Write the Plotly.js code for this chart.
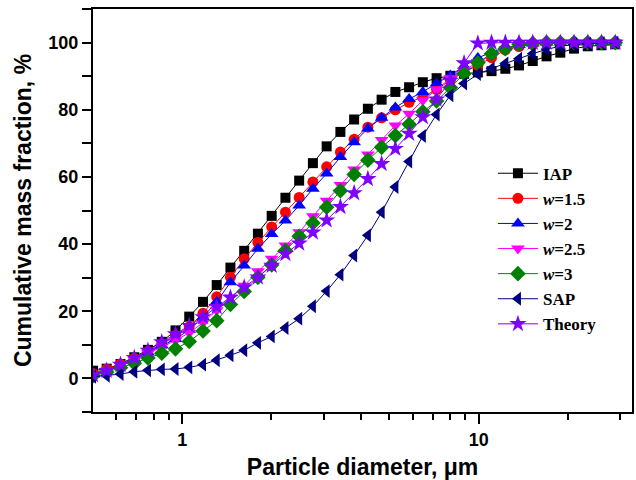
<!DOCTYPE html>
<html>
<head>
<meta charset="utf-8">
<script src="https://cdn.plot.ly/plotly-3.0.1.min.js"></script>
<style>html,body{margin:0;padding:0;background:#fff}#chart{width:636px;height:480px}</style>
</head>
<body>
<div id="chart"></div>
<script>
// Particle diameter (µm), bin centres
const diameter = [0.500, 0.556, 0.619, 0.689, 0.766, 0.853, 0.949, 1.056, 1.175, 1.307,
  1.454, 1.618, 1.800, 2.003, 2.229, 2.480, 2.759, 3.070, 3.416, 3.801,
  4.229, 4.705, 5.235, 5.825, 6.481, 7.211, 8.024, 8.928, 9.934, 11.05,
  12.30, 13.68, 15.22, 16.94, 18.85, 20.97, 23.34, 25.96, 28.89];

const IAP = [2.3, 2.9, 4.3, 6.3, 8.5, 10.9, 14.3, 18.4, 22.8, 27.8,
  33.0, 38.0, 43.1, 48.4, 53.8, 58.9, 64.1, 69.1, 73.4, 77.1,
  80.3, 83.0, 85.3, 86.7, 88.2, 89.4, 90.1, 90.7, 91.1, 91.5,
  92.2, 93.2, 94.5, 95.9, 97.0, 98.2, 98.9, 99.2, 99.5];

const w15 = [1.5, 2.8, 4.3, 6.0, 8.0, 10.3, 12.8, 15.4, 19.4, 24.3,
  30.1, 35.6, 40.5, 45.1, 49.5, 53.9, 58.5, 63.0, 67.4, 71.2,
  74.8, 77.6, 80.0, 82.2, 83.8, 86.0, 88.8, 91.2, 93.2, 95.5,
  97.8, 98.8, 99.4, 99.7, 100, 100, 100, 100, 100];

const w2 = [1.2, 2.5, 4.0, 5.8, 7.8, 9.9, 11.7, 14.5, 18.3, 22.8,
  28.6, 33.6, 38.6, 43.0, 47.0, 51.5, 56.5, 61.0, 65.9, 70.3,
  74.4, 77.6, 80.7, 83.2, 85.3, 87.9, 90.2, 93.0, 95.4, 97.2,
  98.5, 99.3, 99.7, 100, 100, 100, 100, 100, 100];

const w25 = [1.0, 2.3, 3.8, 5.5, 7.5, 9.4, 11.3, 13.6, 16.6, 20.3,
  24.1, 27.6, 31.9, 35.6, 39.6, 43.5, 48.3, 52.9, 57.6, 62.2,
  66.7, 71.0, 75.3, 78.8, 82.8, 86.0, 89.4, 91.7, 94.2, 96.2,
  98.0, 99.0, 99.5, 100, 100, 100, 100, 100, 100];

const w3 = [0.8, 1.8, 3.2, 4.5, 6.1, 7.5, 8.8, 11.0, 14.1, 17.2,
  22.0, 25.9, 30.1, 33.8, 38.1, 42.3, 46.3, 51.0, 55.9, 60.7,
  65.0, 68.8, 72.3, 75.7, 79.4, 82.6, 86.6, 90.7, 94.0, 96.7,
  98.2, 99.5, 99.8, 100, 100, 100, 100, 100, 100];

const SAP = [0.5, 0.8, 1.3, 2.0, 2.4, 2.7, 2.8, 3.3, 4.1, 5.4,
  6.9, 8.4, 10.6, 12.5, 15.0, 17.8, 21.5, 26.0, 30.9, 36.6,
  42.6, 49.5, 57.0, 64.6, 72.2, 78.6, 84.3, 87.8, 90.6, 92.3,
  93.8, 95.2, 96.7, 98.0, 98.9, 99.4, 99.7, 99.9, 100];

const Theory = [1.0, 2.3, 4.1, 6.1, 8.3, 10.8, 13.2, 15.7, 18.3, 21.3,
  24.1, 27.1, 30.1, 33.6, 37.1, 40.2, 43.5, 47.1, 51.1, 55.2,
  59.4, 63.9, 68.4, 72.9, 77.8, 83.1, 88.7, 93.9, 99.8, 100,
  100, 100, 100, 100, 100, 100, 100, 100, 100];

const seriesNames = ['IAP', '<i>w</i>=1.5', '<i>w</i>=2', '<i>w</i>=2.5', '<i>w</i>=3', 'SAP', 'Theory'];
const seriesData = [IAP, w15, w2, w25, w3, SAP, Theory];
const seriesColors = ['#000000', '#FF0000', '#0000FF', '#FF00FF', '#008000', '#000080', '#8000FF'];
const seriesSymbols = ['square', 'circle', 'triangle-up', 'triangle-down', 'diamond', 'triangle-left', 'star'];
const seriesSizes = [10, 11, 12, 12, 12, 12, 13];

const yTickVals = [0, 20, 40, 60, 80, 100];
const yMinorVals = [-10, 10, 30, 50, 70, 90, 110];
const xTickVals = [1, 10];
const xMinorVals = [0.6, 0.7, 0.8, 0.9, 2, 3, 4, 5, 6, 7, 8, 9, 20, 30];

const traces = seriesData.map((ys, i) => ({
  type: 'scatter',
  mode: 'lines+markers',
  name: seriesNames[i],
  x: diameter,
  y: ys,
  line: {color: seriesColors[i], width: 1},
  marker: {symbol: seriesSymbols[i], size: seriesSizes[i], color: seriesColors[i], line: {width: 0}}
}));

const tickFont = {family: 'Liberation Sans, Arial, sans-serif', size: 18, color: '#000', weight: 'bold'};
const titleFont = {family: 'Liberation Sans, Arial, sans-serif', size: 23, color: '#000', weight: 'bold'};

const layout = {
  width: 636,
  height: 480,
  paper_bgcolor: '#ffffff',
  plot_bgcolor: '#ffffff',
  margin: {l: 93, r: 4, t: 9, b: 68},
  showlegend: true,
  legend: {
    x: 0.742, y: 0.636, xanchor: 'left', yanchor: 'top',
    bgcolor: 'rgba(0,0,0,0)', borderwidth: 0,
    font: {family: 'Liberation Serif, Times New Roman, serif', size: 17, color: '#000', weight: 'bold'},
    itemwidth: 40,
    tracegroupgap: 0
  },
  xaxis: {
    type: 'log',
    range: [Math.log10(0.5), Math.log10(32.9)],
    showline: true, linecolor: '#000', linewidth: 2, mirror: true,
    showgrid: false, zeroline: false,
    tickmode: 'array', tickvals: xTickVals, ticktext: xTickVals.map(String),
    ticks: 'outside', ticklen: 10, tickwidth: 2, tickcolor: '#000',
    minor: {tickmode: 'array', tickvals: xMinorVals, ticks: 'outside', ticklen: 6, tickwidth: 2, tickcolor: '#000', showgrid: false},
    tickfont: tickFont,
    title: {text: 'Particle diameter, μm', font: titleFont, standoff: 12}
  },
  yaxis: {
    range: [-10, 110],
    showline: true, linecolor: '#000', linewidth: 2, mirror: true,
    showgrid: false, zeroline: false,
    tickmode: 'array', tickvals: yTickVals,
    ticks: 'outside', ticklen: 9, tickwidth: 2, tickcolor: '#000',
    minor: {tickmode: 'array', tickvals: yMinorVals, ticks: 'outside', ticklen: 9, tickwidth: 2, tickcolor: '#000', showgrid: false},
    tickfont: tickFont,
    title: {text: 'Cumulative mass fraction, %', font: titleFont, standoff: 10}
  }
};

Plotly.newPlot('chart', traces, layout, {displayModeBar: false, staticPlot: true});
</script>
</body>
</html>
